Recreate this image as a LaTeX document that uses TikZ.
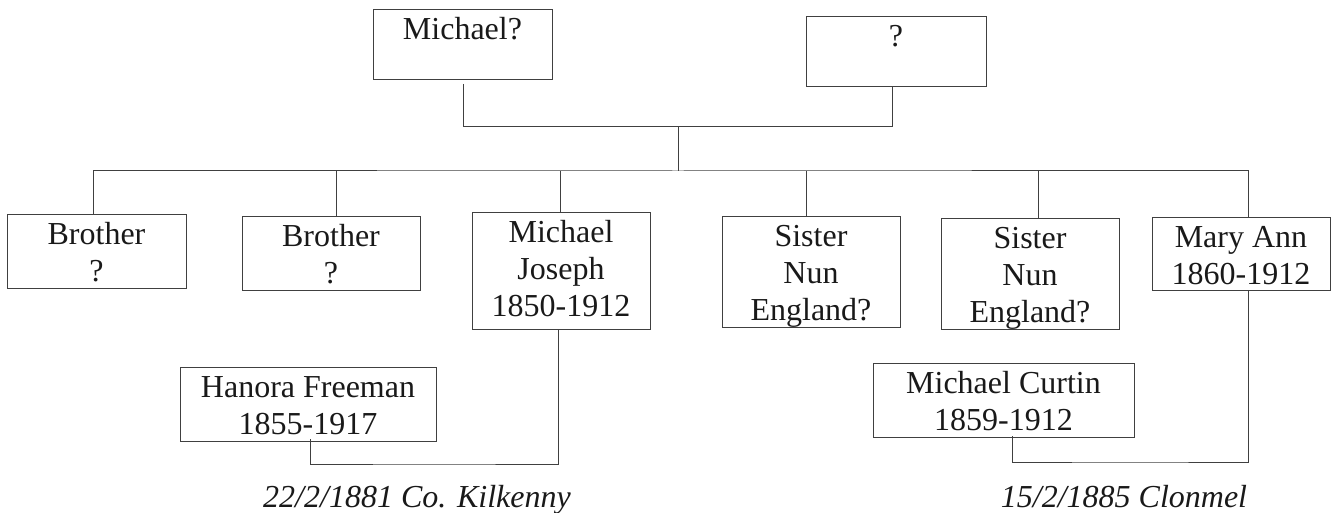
\documentclass[tikz,border=0pt]{standalone}
\usepackage{fontspec}
\setmainfont{Liberation Serif}
\newcommand\topS{\rule{0pt}{22.5pt}}
\newcommand\botS[1]{\rule[-#1]{0pt}{#1}}
\begin{document}
\begin{tikzpicture}[x=0.75pt,y=-0.75pt,
  person/.style={draw=black!75, line width=0.75pt, inner sep=0pt, anchor=north,
    align=center, font=\fontsize{24pt}{27.75pt}\selectfont, text=black!90},
  link/.style={draw=black!75, line width=0.75pt},
  wed/.style={anchor=base, inner sep=0pt, font=\fontsize{24pt}{27.75pt}\selectfont\itshape, text=black!90}]
\useasboundingbox (0,0) rectangle (1336,513);
% parents
\node[person, minimum width=134.25pt] (mq) at (462.5,9) {\topS Michael?\botS{30pt}};
\node[person, minimum width=135pt] (q) at (896,16) {\topS ?\botS{30pt}};
% children
\node[person, minimum width=134.25pt] (b1) at (96.5,214) {\topS Brother\\?\botS{5.25pt}};
\node[person, minimum width=133.5pt] (b2) at (331,216) {\topS Brother\\?\botS{5.25pt}};
\node[person, minimum width=133.5pt] (mj) at (561,212) {\topS Michael\\Joseph\\1850-1912\botS{9.75pt}};
\node[person, minimum width=133.5pt] (s1) at (811,216) {\topS Sister\\Nun\\England?\botS{4.5pt}};
\node[person, minimum width=133.5pt] (s2) at (1030,218) {\topS Sister\\Nun\\England?\botS{5.25pt}};
\node[person, minimum width=133.5pt] (ma) at (1241,217) {\topS Mary Ann\\1860-1912\botS{4.5pt}};
% spouses
\node[person, minimum width=192pt] (hf) at (308,367) {\topS Hanora Freeman\\1855-1917\botS{5.25pt}};
\node[person, minimum width=195.75pt] (mc) at (1003.5,363) {\topS Michael Curtin\\1859-1912\botS{5.25pt}};
% marriage labels
\node[wed] (w1) at (417,507) {22/2/1881 Co. Kilkenny};
\node[wed] (w2) at (1124,507) {15/2/1885 Clonmel};
% parent connector
\coordinate (par) at (678,127);
\coordinate (sib) at (678,171);
\coordinate (mqs) at ([xshift=1.1pt,yshift=-3pt]mq.south);
\coordinate (qs) at ([xshift=-3pt]q.south);
\draw[link] (mqs) |- (qs |- par) -- (qs);
\draw[link] (par) -- (sib);
% sibling connector
\coordinate (b1n) at ([xshift=-1.9pt]b1.north);
\coordinate (b2n) at ([xshift=3.75pt]b2.north);
\coordinate (mjn) at ([xshift=-0.75pt]mj.north);
\coordinate (s1n) at ([xshift=-3.75pt]s1.north);
\coordinate (s2n) at ([xshift=6pt]s2.north);
\coordinate (man) at ([xshift=5.25pt]ma.north);
\draw[link] (b1n) |- (sib) -| (man);
\foreach \c in {b2n,mjn,s1n,s2n} \draw[link] (\c) -- (\c |- sib);
% marriage 1
\coordinate (hfs) at ([xshift=1.5pt,yshift=2.25pt]hf.south);
\coordinate (mjs) at ([xshift=-2.25pt]mj.south);
\coordinate (m1) at (434,464);
\draw[link] (hfs) |- (m1) -| (mjs);
% marriage 2
\coordinate (mcs) at ([xshift=6.4pt,yshift=1.5pt]mc.south);
\coordinate (mas) at ([xshift=5.25pt]ma.south);
\coordinate (m2) at (1130,462);
\draw[link] (mcs) |- (m2) -| (mas);
\end{tikzpicture}
\end{document}
